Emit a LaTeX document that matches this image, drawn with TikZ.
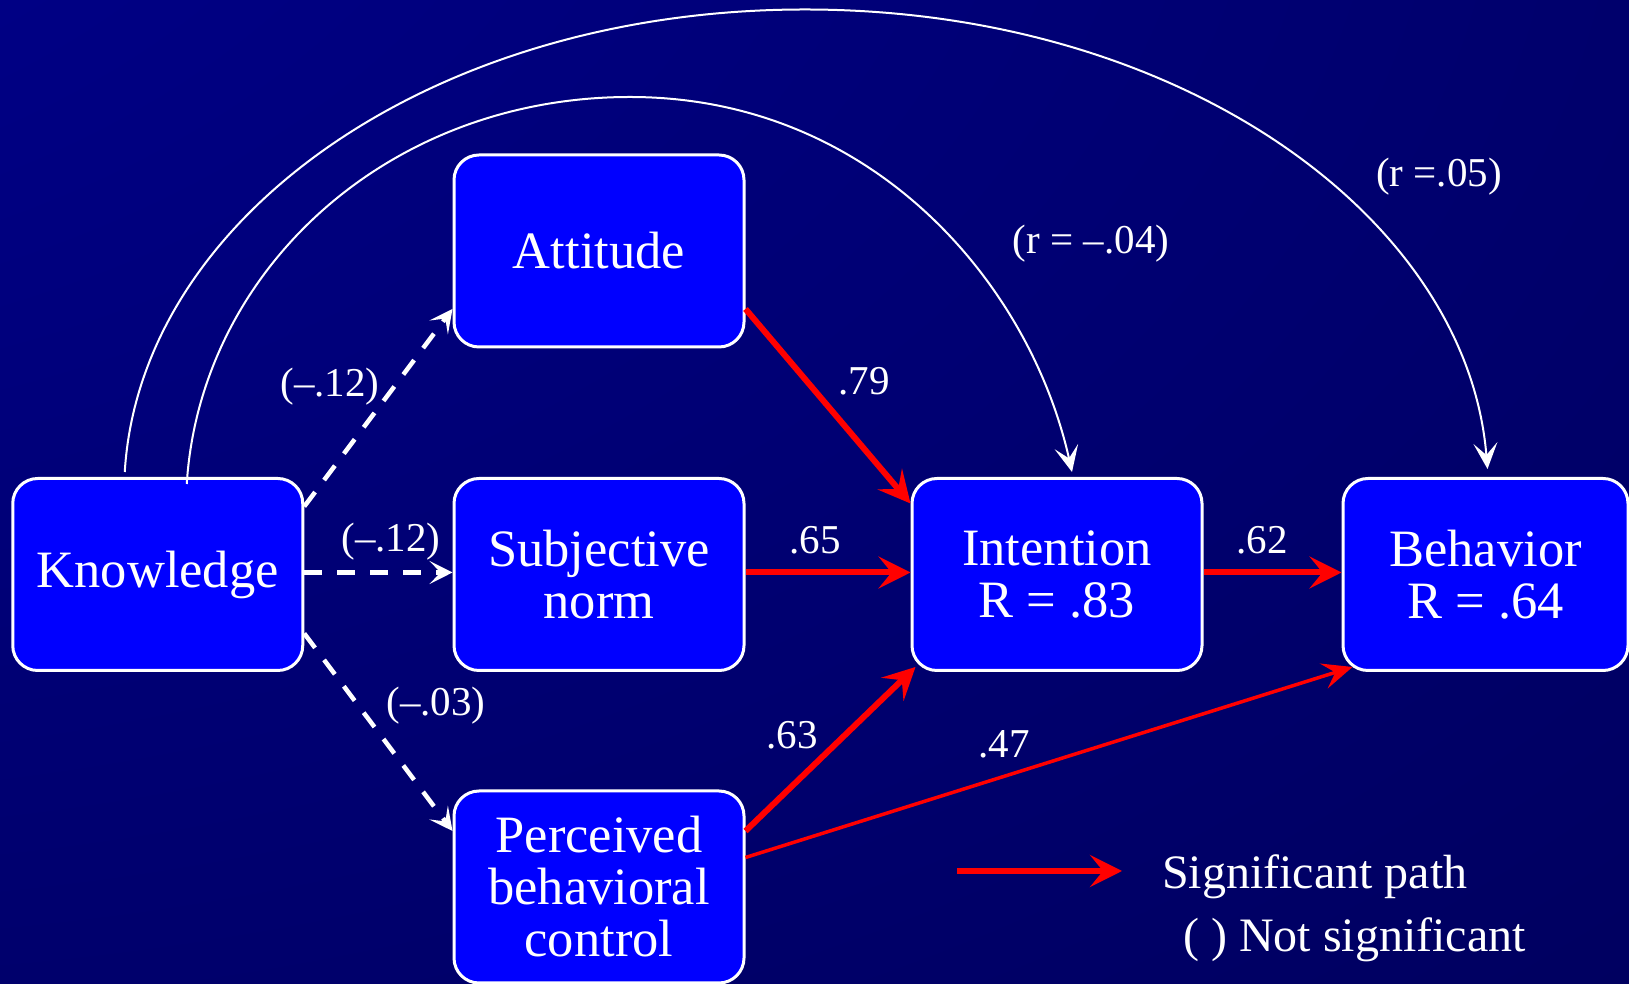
\documentclass[tikz,border=0pt]{standalone}
\usepackage{fontspec}
\setmainfont{Liberation Serif}
\usepackage{tikz}
\usetikzlibrary{positioning, arrows.meta}
\usepackage{xcolor}
\definecolor{slideblue}{RGB}{0, 0, 255}
\definecolor{bgtop}{RGB}{0, 0, 150}
\definecolor{bgbot}{RGB}{0, 0, 78}
\definecolor{sigred}{RGB}{255, 0, 0}
\pgfdeclareradialshading{slideglow}{\pgfpoint{-50bp}{50bp}}%
  {color(0bp)=(bgtop); color(100bp)=(bgbot); color(170bp)=(bgbot)}

\begin{document}
\begin{tikzpicture}[x=1pt, y=1pt,
    box/.style={draw=white, line width=3pt, fill=slideblue, rounded corners=25pt,
                align=center, text=white, inner sep=0pt,
                minimum width=290pt, minimum height=192pt,
                font=\fontsize{52.5}{52}\selectfont},
    lbl/.style={text=white, inner sep=0pt, font=\fontsize{41}{41}\selectfont},
    legend/.style={text=white, inner sep=0pt, font=\fontsize{48}{48}\selectfont},
    sig/.style={draw=sigred, line width=6pt,
                -{Stealth[length=32pt, width=32pt, inset=13pt]}},
    nonsig/.style={draw=white, line width=4.5pt, dash pattern=on 18pt off 15pt,
                -{Stealth[length=23pt, width=23pt, inset=11pt]}},
    corr/.style={draw=white, line width=2pt,
                -{Stealth[length=26pt, width=24pt, inset=12pt]}}]
        \shade[shading=slideglow] (0,0) rectangle (1629,984);
        \useasboundingbox (0,0) rectangle (1629,984);

        \node[box] (know) at (157.75,409.5) {Knowledge};
        \node[box] (att) at (599,733) {Attitude};
        \node[box] (subj) at (599,409.5) {Subjective\\norm};
        \node[box] (pbc) at (599,97) {Perceived\\behavioral\\control};
        \node[box] (int) at (1057,409.5) {Intention\\R = .83};
        \node[box, minimum width=285pt] (beh) at (1485.5,409.5) {Behavior\\R = .64};

        % knowledge paths (not significant)
        \draw[nonsig] ([yshift=68pt]know.east) -- ([yshift=-58pt]att.west);
        \draw[nonsig] ([yshift=2pt]know.east) -- ([yshift=2pt]subj.west);
        \draw[nonsig] ([yshift=-59pt]know.east) -- ([yshift=56pt]pbc.west);

        % significant paths
        \draw[sig] ([yshift=-58pt]att.east) -- ([yshift=71pt]int.west);
        \draw[sig] ([yshift=2pt]subj.east) -- ([yshift=2pt]int.west);
        \draw[sig] ([yshift=2pt]int.east) -- ([yshift=2pt]beh.west);
        \draw[sig] ([yshift=56pt]pbc.east) -- ([shift={(5pt,5pt)}]int.south west);
        \draw[sig, line width=3.5pt, -{Stealth[length=30pt, width=26pt, inset=12pt]}]
              ([yshift=29.5pt]pbc.east) -- ([shift={(11pt,5pt)}]beh.south west);

        % correlations
        \draw[corr] ([shift={(29pt,-7pt)}]know.north)
              .. controls (200,712) and (386,887) .. (630,887)
              .. controls (873,887) and (1030,700) .. ([shift={(15pt,5pt)}]int.north);
        \draw[corr] ([shift={(-33pt,5pt)}]know.north)
              .. controls (140,766) and (431,974.5) .. (805,974.5)
              .. controls (1180,974.5) and (1467,767) .. ([shift={(2pt,8pt)}]beh.north);

        \node[lbl] (k-att) at (330,597.5) {(–.12)};
        \node[lbl] (k-subj) at (391,442) {(–.12)};
        \node[lbl] (k-pbc) at (436,278.5) {(–.03)};
        \node[lbl] (att-int) at (864,603) {.79};
        \node[lbl] (subj-int) at (815,444) {.65};
        \node[lbl] (int-beh) at (1262,444) {.62};
        \node[lbl] (pbc-int) at (792,248.5) {.63};
        \node[lbl] (pbc-beh) at (1004,240) {.47};
        \node[lbl] (r-int) at (1091,740) {(r = –.04)};
        \node[lbl] (r-beh) at (1439,807) {(r =.05)};

        % legend
        \coordinate (legfrom) at (957,113);
        \coordinate (legto) at (1122,113);
        \draw[sig] (legfrom) -- (legto);
        \node[legend, anchor=base west] (legsig) at (1162,95.7) {Significant path};
        \node[legend, anchor=base west] (legns) at (1183,32.3) {( ) Not significant};
      \end{tikzpicture}
\end{document}
